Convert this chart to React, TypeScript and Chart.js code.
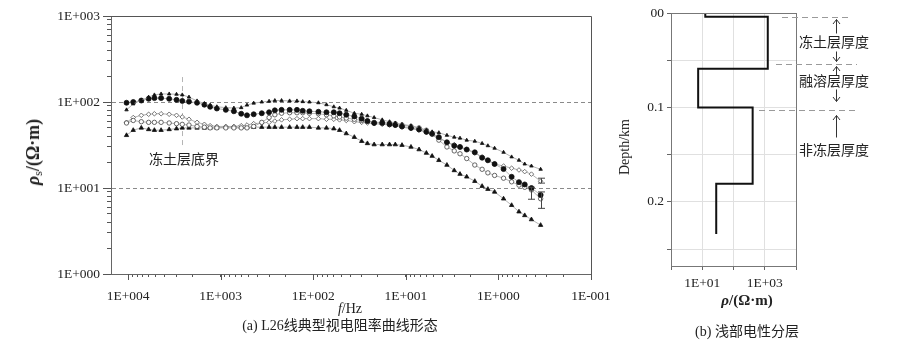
import React, { useEffect, useRef } from 'react';
import { Chart, registerables } from 'chart.js';

Chart.register(...registerables);

// ---------- (a) apparent resistivity curves ----------
const freqHz = [10400, 8800, 7200, 6000, 5200, 4400, 3600, 3000, 2600, 2200,
  1800, 1500, 1300, 1100, 880, 720, 600, 520, 440, 360,
  300, 260, 220, 180, 150, 130, 110, 88, 72, 60,
  52, 44, 36, 30, 26, 22, 18, 15, 13, 11,
  8.8, 7.2, 6.0, 5.2, 4.4, 3.6, 3.0, 2.6, 2.2, 1.8,
  1.5, 1.3, 1.1, 0.88, 0.72, 0.6, 0.52, 0.44, 0.35];

const starRho = [81, 95, 105, 114, 121, 124, 124, 123, 121, 114,
  103, 96, 92, 88, 86, 85, 86, 92, 97, 100,
  102, 104, 104, 103, 103, 101, 100, 98, 93, 88,
  85, 80, 74, 72, 69, 66, 62, 59, 57, 55,
  53, 50, 47, 45, 44, 41, 39, 38, 36, 35,
  33, 31, 29, 26, 23, 21, 19, 18, 16.5];

const filledRho = [98, 100, 104, 109, 111, 111, 109, 106, 103, 101,
  98, 93, 88, 84, 81, 78, 73, 70, 72, 74,
  76, 80, 81, 81, 81, 79, 78, 77, 76, 76,
  74, 71, 68, 64, 60, 57, 57, 55, 54, 52,
  50, 48, 45, 43, 39, 34, 31, 30, 28, 26,
  22.5, 21, 19, 16.6, 13.5, 11.7, 11, 10, 8.3];

const openCircleRho = [57, 61, 59, 58, 58, 58, 57, 56, 55, 54,
  52, 51, 50, 50, 50, 50, 50, 50, 52, 58,
  66, 71, 74, 75, 75, 75, 74, 73, 71, 69,
  67, 65, 63, 61, 60, 58, 58, 57, 56, 54,
  52, 50, 47, 42, 36, 30, 27, 25, 22, 18.5,
  16.5, 15, 14, 13, 11.8, 10.8, 10.2, 9.5, 7.5];

const diamondRho = [58, 66, 70, 72, 73, 73, 72, 70, 67, 63,
  58, 55, 53, 52, 52, 52, 53, 54, 56, 57,
  58, 60, 62, 63, 64, 64, 64, 64, 63, 63,
  62, 61, 59, 58, 57, 56, 55, 54, 53, 51,
  49, 47, 44, 42, 38, 34, 32, 30, 28, 25.5,
  23, 21, 19, 18, 17, 16.2, 15.5, 14.5, 12];

const triangleRho = [41, 47, 50, 48, 47, 47, 48, 49, 50, 50,
  50, 50, 50, 50, 51, 51, 51, 51, 51, 51,
  51, 51, 51, 51, 51, 51, 51, 50, 50, 49,
  47, 43, 39, 35, 33, 32, 32, 32, 32, 31.5,
  30, 28, 25.5, 23.5, 21, 18.5, 16, 14.5, 13.5, 12,
  10.5, 9.7, 9, 7.5, 6.3, 5.3, 4.8, 4.3, 3.7];

const errFreq = [0.35, 0.44, 0.35];
const errLow = [5.8, 7.4, 11.4];
const errHigh = [9.0, 10.2, 13.0];

const xMajorTicks = [10000, 1000, 100, 10, 1, 0.1];
const xMajorLabels = ['1E+004', '1E+003', '1E+002', '1E+001', '1E+000', '1E-001'];
const yMajorTicks = [1, 10, 100, 1000];
const yMajorLabels = ['1E+000', '1E+001', '1E+002', '1E+003'];
const refLines = [10, 100];
const frozenBaseFreq = 2600;
const frozenBaseRange = [30, 195];

// ---------- (b) layered model ----------
const layerRho = [12.5, 1250, 7.4, 410, 28];
const layerBounds = [0, 0.004, 0.059, 0.1, 0.181, 0.234];
const rhoTicks = [1, 10, 100, 1000, 10000];
const rhoTickLabels = ['', '1E+01', '', '1E+03', ''];
const depthTicks = [0, 0.05, 0.1, 0.15, 0.2, 0.25];
const depthTickLabels = ['00', '', '0.1', '', '0.2', ''];
const zoneDepths = [0.0042, 0.054, 0.1026];

const SERIF = '"Liberation Serif", "Times New Roman", serif';
const CJK = '"Liberation Serif", "Noto Sans CJK SC", serif';

function logTicks(min: number, max: number): number[] {
  const out: number[] = [];
  for (let e = Math.floor(Math.log10(min)); e <= Math.ceil(Math.log10(max)); e++) {
    for (let m = 1; m <= 9; m++) {
      const v = parseFloat((m * Math.pow(10, e)).toPrecision(6));
      if (v >= min * 0.9999 && v <= max * 1.0001) out.push(v);
    }
  }
  return out;
}
const sameVal = (a: number, b: number) => Math.abs(Math.log10(a) - Math.log10(b)) < 1e-6;

const seriesDefs = [
  { values: starRho, style: 'triangle', radius: 2.0, bg: '#111', border: '#111' },
  { values: filledRho, style: 'circle', radius: 2.5, bg: '#111', border: '#111' },
  { values: openCircleRho, style: 'circle', radius: 2.2, bg: '#fff', border: '#444' },
  { values: diamondRho, style: 'rectRot', radius: 2.3, bg: '#fff', border: '#555' },
  { values: triangleRho, style: 'triangle', radius: 2.5, bg: '#111', border: '#111' },
];

const leftDecor = {
  id: 'leftDecor',
  beforeDatasetsDraw(chart: any) {
    const { ctx, scales: { x, y } } = chart;
    const px = Math.round(x.getPixelForValue(frozenBaseFreq)) + 0.5;
    ctx.save();
    ctx.strokeStyle = '#b5b5b5';
    ctx.lineWidth = 1;
    ctx.setLineDash([5, 4]);
    ctx.beginPath();
    ctx.moveTo(px, y.getPixelForValue(frozenBaseRange[1]));
    ctx.lineTo(px, y.getPixelForValue(frozenBaseRange[0]));
    ctx.stroke();
    ctx.restore();
  },
  afterDatasetsDraw(chart: any) {
    const { ctx, scales: { x, y } } = chart;
    ctx.save();
    ctx.strokeStyle = '#444';
    ctx.lineWidth = 1;
    ctx.beginPath();
    errFreq.forEach((f, i) => {
      const px = Math.round(x.getPixelForValue(f)) + 0.5;
      const y1 = y.getPixelForValue(errLow[i]);
      const y2 = y.getPixelForValue(errHigh[i]);
      ctx.moveTo(px, y1); ctx.lineTo(px, y2);
      ctx.moveTo(px - 3.5, y1); ctx.lineTo(px + 3.5, y1);
      ctx.moveTo(px - 3.5, y2); ctx.lineTo(px + 3.5, y2);
    });
    ctx.stroke();
    ctx.restore();
  },
  afterDraw(chart: any) {
    const { ctx, chartArea: a, scales: { x, y } } = chart;
    ctx.save();
    ctx.strokeStyle = '#555';
    ctx.lineWidth = 1;
    ctx.beginPath();
    ctx.moveTo(a.left, a.top + 0.5); ctx.lineTo(a.right + 0.5, a.top + 0.5);
    ctx.lineTo(a.right + 0.5, a.bottom);
    yMajorTicks.forEach((v) => {
      const py = Math.round(y.getPixelForValue(v)) + 0.5;
      ctx.moveTo(a.left - 8, py); ctx.lineTo(a.left, py);
    });
    xMajorTicks.forEach((v) => {
      const px = Math.round(x.getPixelForValue(v)) + 0.5;
      ctx.moveTo(px, a.bottom); ctx.lineTo(px, a.bottom + 6);
    });
    ctx.stroke();
    ctx.restore();
  },
};

const rightDecor = {
  id: 'rightDecor',
  afterDraw(chart: any) {
    const { ctx, chartArea: a, scales: { y } } = chart;
    ctx.save();
    ctx.strokeStyle = '#777';
    ctx.lineWidth = 1;
    ctx.strokeRect(a.left + 0.5, a.top + 0.5, a.right - a.left, a.bottom - a.top);
    const ys = zoneDepths.map((d) => Math.round(y.getPixelForValue(d)) + 0.5);
    const starts = [a.right - 14, a.right - 20, a.right - 37];
    const ends = [a.right + 56, a.right + 61, a.right + 62];
    ctx.strokeStyle = '#9a9a9a';
    ctx.setLineDash([6, 4]);
    ctx.beginPath();
    ys.forEach((py, i) => { ctx.moveTo(starts[i], py); ctx.lineTo(ends[i], py); });
    ctx.stroke();
    ctx.setLineDash([]);
    ctx.strokeStyle = '#333';
    const ax = a.right + 40.5;
    const up = (ty: number, to: number) => {
      ctx.moveTo(ax, ty); ctx.lineTo(ax, to);
      ctx.moveTo(ax - 3.5, ty + 4.5); ctx.lineTo(ax, ty); ctx.lineTo(ax + 3.5, ty + 4.5);
    };
    const down = (ty: number, from: number) => {
      ctx.moveTo(ax, from); ctx.lineTo(ax, ty);
      ctx.moveTo(ax - 3.5, ty - 4.5); ctx.lineTo(ax, ty); ctx.lineTo(ax + 3.5, ty - 4.5);
    };
    ctx.beginPath();
    up(ys[0] + 2, ys[0] + 16);
    down(ys[1] - 3, ys[1] - 13);
    up(ys[1] + 2, ys[1] + 11);
    down(ys[2] - 9, ys[2] - 21);
    up(ys[2] + 5, ys[2] + 27);
    ctx.stroke();
    ctx.restore();
  },
};

const tickFont = { family: SERIF, size: 13.5 };

function Label(props: { x: number; y: number; rotate?: boolean; style?: any; children: any }) {
  return (
    <div
      style={{
        position: 'absolute',
        left: props.x,
        top: props.y,
        transform: `translate(-50%, -50%)${props.rotate ? ' rotate(-90deg)' : ''}`,
        whiteSpace: 'nowrap',
        lineHeight: 1,
        color: '#222',
        ...props.style,
      }}
    >
      {props.children}
    </div>
  );
}

export default function App() {
  const leftRef = useRef<HTMLCanvasElement>(null);
  const rightRef = useRef<HTMLCanvasElement>(null);

  useEffect(() => {
    const left = new Chart(leftRef.current as HTMLCanvasElement, {
      type: 'line',
      data: {
        datasets: seriesDefs.map((s) => ({
          data: freqHz.map((f, i) => ({ x: f, y: s.values[i] })),
          borderColor: '#a0a0a0',
          borderWidth: 0.8,
          pointStyle: s.style as any,
          pointRadius: s.radius,
          pointBackgroundColor: s.bg,
          pointBorderColor: s.border,
          pointBorderWidth: 0.8,
          fill: false,
        })),
      },
      options: {
        animation: false,
        responsive: false,
        devicePixelRatio: 1,
        layout: { padding: { top: 16, right: 29, left: 0, bottom: 0 } },
        plugins: { legend: { display: false }, tooltip: { enabled: false } },
        scales: {
          x: {
            type: 'logarithmic',
            reverse: true,
            min: 0.1,
            max: 15300,
            afterBuildTicks: (s: any) => { s.ticks = logTicks(0.1, 15300).map((v) => ({ value: v })); },
            afterFit: (s: any) => { s.height = 70; },
            grid: { drawOnChartArea: false, tickLength: 3, tickColor: '#555', tickWidth: 1 },
            border: { color: '#666', width: 1 },
            ticks: {
              autoSkip: false, maxRotation: 0, padding: 11, font: tickFont, color: '#222',
              callback: (v: any) => {
                const k = xMajorTicks.findIndex((t) => sameVal(t, Number(v)));
                return k >= 0 ? xMajorLabels[k] : '';
              },
            },
          },
          y: {
            type: 'logarithmic',
            min: 1,
            max: 1000,
            afterBuildTicks: (s: any) => { s.ticks = logTicks(1, 1000).map((v) => ({ value: v })); },
            afterFit: (s: any) => { s.width = 111; },
            grid: {
              color: (c: any) => (c.tick && refLines.some((v) => sameVal(v, c.tick.value)) ? '#8a8a8a' : 'rgba(0,0,0,0)'),
              tickLength: 4,
              tickColor: '#555',
              lineWidth: 1,
            },
            border: { color: '#666', width: 1, dash: [4, 3] },
            ticks: {
              autoSkip: false, padding: 7, font: tickFont, color: '#222',
              callback: (v: any) => {
                const k = yMajorTicks.findIndex((t) => sameVal(t, Number(v)));
                return k >= 0 ? yMajorLabels[k] : '';
              },
            },
          },
        },
      } as any,
      plugins: [leftDecor],
    });

    const stepPts: { x: number; y: number }[] = [];
    layerRho.forEach((r, i) => {
      stepPts.push({ x: r, y: layerBounds[i] });
      stepPts.push({ x: r, y: layerBounds[i + 1] });
    });

    const right = new Chart(rightRef.current as HTMLCanvasElement, {
      type: 'line',
      data: {
        datasets: [{
          data: stepPts,
          borderColor: '#111',
          borderWidth: 2,
          pointRadius: 0,
          fill: false,
        }],
      },
      options: {
        animation: false,
        responsive: false,
        devicePixelRatio: 1,
        layout: { padding: { top: 13, right: 104, left: 0, bottom: 0 } },
        plugins: { legend: { display: false }, tooltip: { enabled: false } },
        scales: {
          x: {
            type: 'logarithmic',
            min: 1,
            max: 10000,
            afterBuildTicks: (s: any) => { s.ticks = rhoTicks.map((v) => ({ value: v })); },
            afterFit: (s: any) => { s.height = 78; },
            grid: {
              color: (c: any) => (c.tick && (sameVal(c.tick.value, 1) || sameVal(c.tick.value, 10000)) ? 'rgba(0,0,0,0)' : '#e0e0e0'),
              tickLength: 4, tickColor: '#666',
            },
            border: { color: '#666', width: 1 },
            ticks: {
              autoSkip: false, maxRotation: 0, padding: 5, font: tickFont, color: '#222',
              callback: (_v: any, i: number) => rhoTickLabels[i],
            },
          },
          y: {
            type: 'linear',
            reverse: true,
            min: 0,
            max: 0.268,
            afterBuildTicks: (s: any) => { s.ticks = depthTicks.map((v) => ({ value: v })); },
            afterFit: (s: any) => { s.width = 51; },
            grid: {
              color: (c: any) => (c.tick && c.tick.value === 0 ? 'rgba(0,0,0,0)' : '#e0e0e0'),
              tickLength: 4, tickColor: '#666',
            },
            border: { color: '#666', width: 1 },
            ticks: {
              autoSkip: false, padding: 3, font: tickFont, color: '#222',
              callback: (_v: any, i: number) => depthTickLabels[i],
            },
          },
        },
      } as any,
      plugins: [rightDecor],
    });

    return () => { left.destroy(); right.destroy(); };
  }, []);

  return (
    <div style={{ position: 'fixed', left: 0, top: 0, width: 900, height: 344, background: '#fff', overflow: 'hidden' }}>
      <canvas ref={leftRef} width={620} height={344} style={{ position: 'absolute', left: 0, top: 0, width: 620, height: 344 }} />
      <canvas ref={rightRef} width={280} height={344} style={{ position: 'absolute', left: 620, top: 0, width: 280, height: 344 }} />

      <Label x={33} y={152} rotate style={{ fontFamily: SERIF, fontWeight: 'bold', fontSize: 18 }}>
        <i>ρ</i><span style={{ fontSize: 12, fontWeight: 'normal', position: 'relative', top: 3 }}>s</span>/(Ω·m)
      </Label>
      <Label x={350} y={309} style={{ fontFamily: SERIF, fontSize: 14 }}>
        <i>f</i>/Hz
      </Label>
      <Label x={340} y={326} style={{ fontFamily: CJK, fontSize: 14 }}>
        (a) L26线典型视电阻率曲线形态
      </Label>
      <Label x={184} y={160} style={{ fontFamily: CJK, fontSize: 14 }}>
        冻土层底界
      </Label>

      <Label x={625} y={147} rotate style={{ fontFamily: SERIF, fontSize: 14 }}>
        Depth/km
      </Label>
      <Label x={747} y={300} style={{ fontFamily: SERIF, fontWeight: 'bold', fontSize: 15 }}>
        <i>ρ</i>/(Ω·m)
      </Label>
      <Label x={747} y={332} style={{ fontFamily: CJK, fontSize: 14 }}>
        (b) 浅部电性分层
      </Label>
      <Label x={834} y={43} style={{ fontFamily: CJK, fontSize: 14 }}>冻土层厚度</Label>
      <Label x={834} y={82} style={{ fontFamily: CJK, fontSize: 14 }}>融溶层厚度</Label>
      <Label x={834} y={151} style={{ fontFamily: CJK, fontSize: 14 }}>非冻层厚度</Label>
    </div>
  );
}
